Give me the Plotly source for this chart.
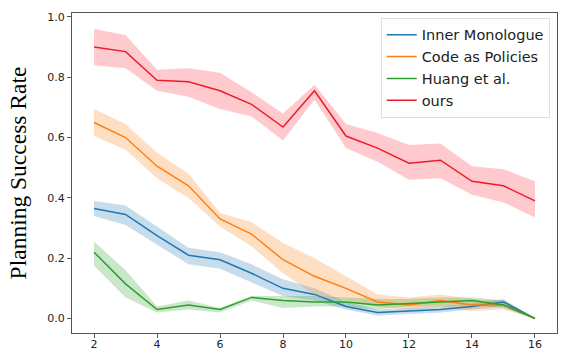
import plotly.graph_objects as go

steps = list(range(2, 17))

inner_mean = [0.365, 0.345, 0.275, 0.21, 0.195, 0.15, 0.10, 0.08, 0.04, 0.02, 0.025, 0.03, 0.04, 0.055, 0.0]
inner_lo   = [0.34, 0.31, 0.245, 0.18, 0.165, 0.12, 0.075, 0.06, 0.03, 0.01, 0.015, 0.02, 0.03, 0.04, 0.0]
inner_hi   = [0.39, 0.375, 0.305, 0.235, 0.22, 0.18, 0.13, 0.10, 0.055, 0.03, 0.035, 0.04, 0.05, 0.065, 0.0]

cap_mean = [0.65, 0.60, 0.505, 0.44, 0.33, 0.28, 0.195, 0.14, 0.10, 0.055, 0.045, 0.06, 0.045, 0.045, 0.0]
cap_lo   = [0.605, 0.56, 0.465, 0.40, 0.305, 0.24, 0.15, 0.08, 0.06, 0.04, 0.03, 0.04, 0.025, 0.03, 0.0]
cap_hi   = [0.695, 0.645, 0.55, 0.48, 0.35, 0.32, 0.25, 0.20, 0.14, 0.08, 0.07, 0.08, 0.065, 0.06, 0.0]

huang_mean = [0.22, 0.115, 0.03, 0.045, 0.03, 0.07, 0.06, 0.055, 0.055, 0.045, 0.05, 0.055, 0.06, 0.045, 0.0]
huang_lo   = [0.175, 0.07, 0.02, 0.03, 0.02, 0.06, 0.035, 0.04, 0.04, 0.03, 0.04, 0.04, 0.045, 0.035, 0.0]
huang_hi   = [0.255, 0.16, 0.04, 0.06, 0.035, 0.075, 0.075, 0.075, 0.07, 0.065, 0.065, 0.07, 0.07, 0.06, 0.0]

ours_mean = [0.90, 0.885, 0.79, 0.785, 0.755, 0.71, 0.635, 0.755, 0.605, 0.565, 0.515, 0.525, 0.455, 0.44, 0.39]
ours_lo   = [0.84, 0.83, 0.755, 0.735, 0.695, 0.67, 0.59, 0.725, 0.565, 0.52, 0.46, 0.465, 0.41, 0.385, 0.335]
ours_hi   = [0.96, 0.94, 0.825, 0.83, 0.815, 0.75, 0.68, 0.775, 0.645, 0.615, 0.575, 0.58, 0.505, 0.495, 0.455]

series = [
    ("Inner Monologue", inner_mean, inner_lo, inner_hi, "#1f77b4", "rgba(31,119,180,0.25)"),
    ("Code as Policies", cap_mean, cap_lo, cap_hi, "#ff7f0e", "rgba(255,127,14,0.25)"),
    ("Huang et al.", huang_mean, huang_lo, huang_hi, "#2ca02c", "rgba(44,160,44,0.25)"),
    ("ours", ours_mean, ours_lo, ours_hi, "#ec1c2c", "rgba(255,60,75,0.27)"),
]

fig = go.Figure()
for name, m, lo, hi, col, fill in series:
    fig.add_trace(go.Scatter(x=steps, y=lo, mode="lines", line=dict(width=0),
                             showlegend=False, hoverinfo="skip"))
    fig.add_trace(go.Scatter(x=steps, y=hi, mode="lines", line=dict(width=0),
                             fill="tonexty", fillcolor=fill, showlegend=False, hoverinfo="skip"))
for name, m, lo, hi, col, fill in series:
    fig.add_trace(go.Scatter(x=steps, y=m, mode="lines", name=name,
                             line=dict(color=col, width=1.5)))

axis_common = dict(showline=True, linecolor="#555555", linewidth=1, mirror=True,
                   ticks="outside", ticklen=4, tickcolor="#555555", showgrid=False,
                   zeroline=False, automargin=False,
                   tickfont=dict(family="DejaVu Sans", size=11, color="#222222"))

fig.update_layout(
    width=569, height=354,
    margin=dict(l=72, r=12, t=13, b=21),
    plot_bgcolor="white", paper_bgcolor="white",
    xaxis=dict(range=[1.3, 16.7], tickvals=[2, 4, 6, 8, 10, 12, 14, 16],
               ticklabelstandoff=-3, **axis_common),
    yaxis=dict(range=[-0.048, 1.013], tickvals=[0, 0.2, 0.4, 0.6, 0.8, 1.0],
               tickformat=".1f",
               title=dict(text="Planning Success Rate",
                          font=dict(family="Liberation Serif", size=23.5, color="black"),
                          standoff=14),
               **axis_common),
    legend=dict(x=0.985, y=0.985, xanchor="right", yanchor="top", traceorder="normal",
                bgcolor="rgba(255,255,255,0.8)", bordercolor="#dddddd", borderwidth=1,
                font=dict(family="DejaVu Sans", size=14.5, color="#222222"),
                itemwidth=30, tracegroupgap=0),
)

fig.write_html("out.html")
